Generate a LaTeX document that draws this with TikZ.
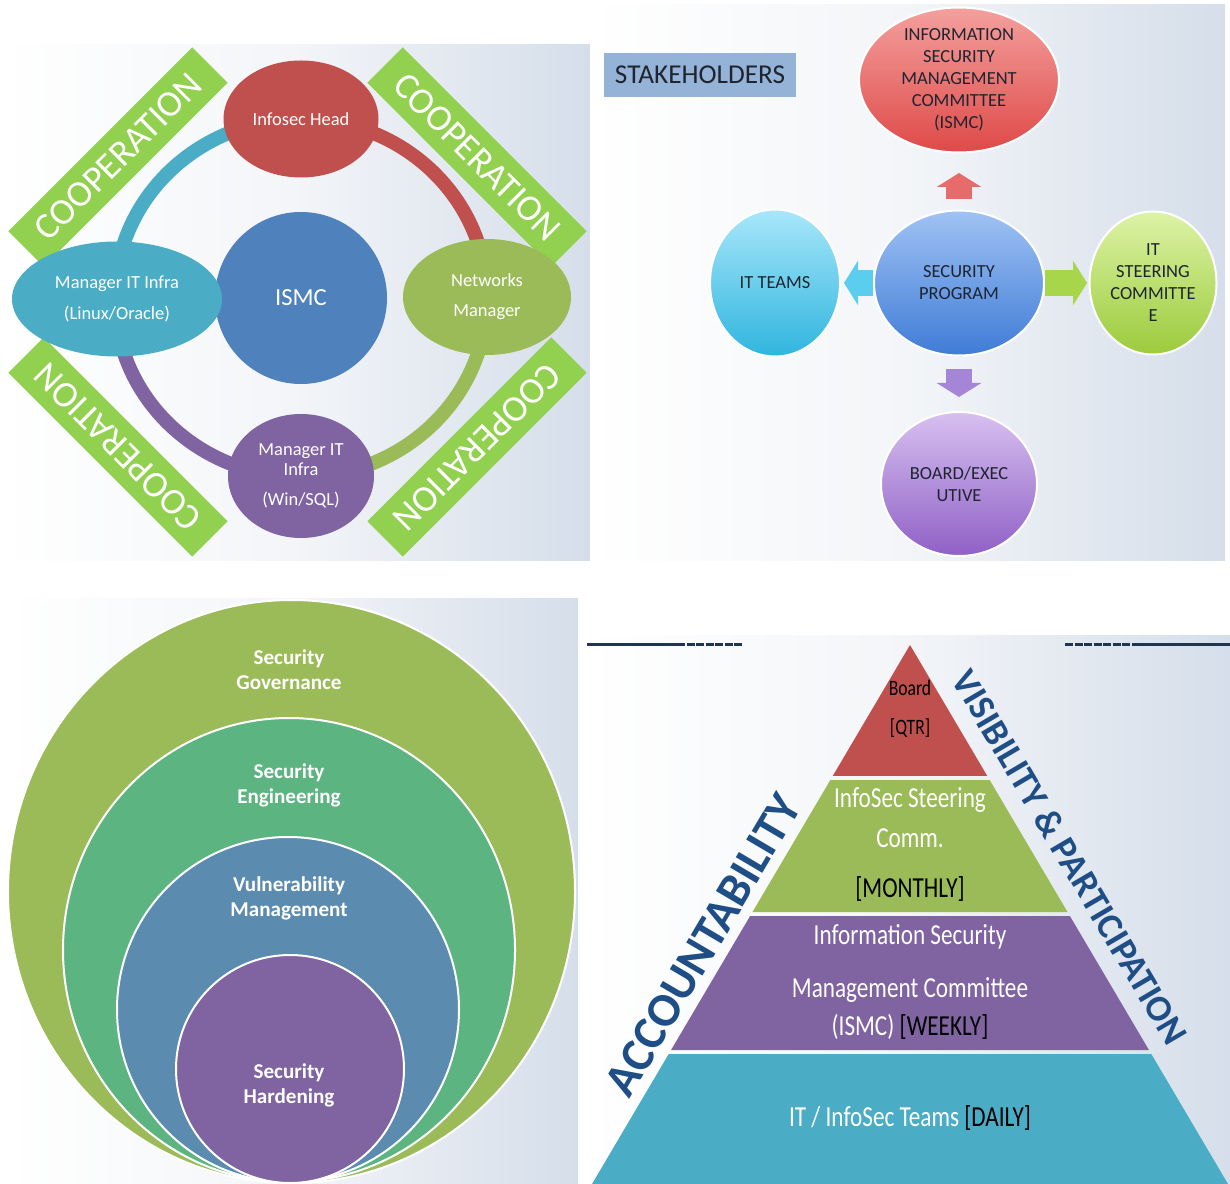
\documentclass[tikz,border=0pt]{standalone}
\usepackage{fontspec}
\setmainfont{Carlito}
\newfontfamily\pyrfont[FakeStretch=0.8]{Carlito}
\usetikzlibrary{positioning,arrows.meta,shapes.geometric,calc}
\definecolor{roleRed}{HTML}{C0504D}
\definecolor{roleBlue}{HTML}{4F81BD}
\definecolor{roleCyan}{HTML}{4BACC6}
\definecolor{roleGreen}{HTML}{9BBB59}
\definecolor{rolePurple}{HTML}{8064A2}
\definecolor{coopGreen}{HTML}{92D050}
\definecolor{stakeBox}{HTML}{95B3D7}
\definecolor{inkDark}{HTML}{1E2430}
\definecolor{engGreen}{HTML}{5CB480}
\definecolor{vulBlue}{HTML}{5B8CAF}
\definecolor{sideBlue}{HTML}{1F4E86}
\definecolor{lineNavy}{HTML}{1F3550}
\definecolor{bgMid}{HTML}{F3F5F8}
\definecolor{bgBlue}{HTML}{D5DEEA}
\definecolor{redTop}{HTML}{F4A09E}
\definecolor{redBot}{HTML}{DE4A48}
\definecolor{blueTop}{HTML}{A0C2F4}
\definecolor{blueBot}{HTML}{3F7CD6}
\definecolor{cyanTop}{HTML}{A8E7FA}
\definecolor{cyanBot}{HTML}{30B5DE}
\definecolor{limeTop}{HTML}{DDF3A6}
\definecolor{limeBot}{HTML}{9BCB3C}
\definecolor{violetTop}{HTML}{D7C0F0}
\definecolor{violetBot}{HTML}{8F60C6}
\definecolor{arrRed}{HTML}{E76B6B}
\definecolor{arrCyan}{HTML}{5BCDEE}
\definecolor{arrGreen}{HTML}{A8D64B}
\definecolor{arrViolet}{HTML}{A585D6}

\begin{document}
\begin{tikzpicture}[x=0.2mm, y=0.2mm,
  panel/.style={left color=white, right color=bgBlue, middle color=bgMid},
  ring/.style={line width=2.8mm},
  role/.style={ellipse, inner sep=0pt, text=white, align=center, font=\fontsize{10.5}{11.5}\selectfont},
  coop/.style={fill=coopGreen, text=white, minimum width=52mm, minimum height=10mm, inner sep=0pt, font=\fontsize{21}{21}\selectfont},
  stake/.style={ellipse, draw=white, line width=0.4mm, inner sep=0pt},
  staketext/.style={text=inkDark, align=center, font=\fontsize{10.5}{12.5}\selectfont},
  push/.style={line width=5.2mm, -{Triangle[width=8.8mm, length=2.8mm]}},
  layer/.style={ellipse, draw=white, line width=0.4mm, inner sep=0pt},
  layertext/.style={text=white, align=center, font=\bfseries\fontsize{12}{14.2}\selectfont},
  tiertext/.style={text=white, font=\pyrfont\fontsize{16.5}{18}\selectfont},
  side/.style={text=sideBlue, font=\bfseries\fontsize{27}{27}\selectfont}]

\useasboundingbox (0,0) rectangle (1230,-1184);

% panels
\shade[panel] (0,-45) rectangle (590,-560);
\shade[panel] (590,-5) rectangle (1225,-560);
\shade[panel] (5,-598) rectangle (578,-1184);
\shade[panel] (585,-635) rectangle (1230,-1184);

% cooperation ring
\coordinate (hub) at (301,-298);
\draw[ring, roleRed] ($(hub)+(0:186 and 179)$) arc[start angle=0, end angle=90, x radius=186, y radius=179];
\draw[ring, roleCyan] ($(hub)+(90:186 and 179)$) arc[start angle=90, end angle=180, x radius=186, y radius=179];
\draw[ring, rolePurple] ($(hub)+(180:186 and 179)$) arc[start angle=180, end angle=270, x radius=186, y radius=179];
\draw[ring, roleGreen] ($(hub)+(270:186 and 179)$) arc[start angle=270, end angle=360, x radius=186, y radius=179];

\node[coop, rotate=45] (coopNW) at (118,-157) {COOPERATION};
\node[coop, rotate=-45] (coopNE) at (477,-157) {COOPERATION};
\node[coop, rotate=135] (coopSW) at (118,-447) {COOPERATION};
\node[coop, rotate=-135] (coopSE) at (477,-447) {COOPERATION};

\node[role, circle, fill=roleBlue, minimum size=34.4mm, font=\fontsize{14}{14}\selectfont] (ismc) at (hub) {ISMC};
\node[role, fill=roleRed, minimum width=31mm, minimum height=23.4mm] (head) at (301,-119) {Infosec Head};
\node[role, fill=roleCyan, minimum width=42mm, minimum height=23mm] (linux) at (117,-299) {Manager IT Infra\\[2mm](Linux/Oracle)};
\node[role, fill=roleGreen, minimum width=33.6mm, minimum height=23.2mm] (netw) at (487,-297) {Networks\\[2mm]Manager};
\node[role, fill=rolePurple, minimum width=29.2mm, minimum height=24.8mm] (winsql) at (301,-476) {Manager IT\\Infra\\[2mm](Win/SQL)};

% stakeholders
\node[fill=stakeBox, minimum width=38.4mm, minimum height=8.8mm, inner sep=0pt, text=inkDark, font=\fontsize{15.5}{15.5}\selectfont] (stake) at (700,-75) {STAKEHOLDERS};
\node[stake, top color=redTop, bottom color=redBot, minimum width=40mm, minimum height=29mm] (ismcR) at (959,-80) {};
\node[staketext] (ismcRt) at (ismcR) {INFORMATION\\SECURITY\\MANAGEMENT\\COMMITTEE\\(ISMC)};
\node[stake, top color=blueTop, bottom color=blueBot, minimum width=34mm, minimum height=29mm] (prog) at (959,-283) {};
\node[staketext] (progt) at (prog) {SECURITY\\PROGRAM};
\node[stake, top color=cyanTop, bottom color=cyanBot, minimum width=26mm, minimum height=29.4mm] (teams) at (775,-283) {};
\node[staketext] (teamst) at (teams) {IT TEAMS};
\node[stake, top color=limeTop, bottom color=limeBot, minimum width=25.4mm, minimum height=28.6mm] (steer) at (1153,-283) {};
\node[staketext] (steert) at (steer) {IT\\STEERING\\COMMITTE\\E};
\node[stake, top color=violetTop, bottom color=violetBot, minimum width=31.2mm, minimum height=28.8mm] (board) at (959,-484) {};
\node[staketext] (boardt) at (board) {BOARD/EXEC\\UTIVE};

\draw[push, arrRed, shorten <=2.1mm, shorten >=3.9mm] (prog) -- (ismcR);
\draw[push, arrCyan, shorten >=0.6mm] (prog) -- (teams);
\draw[push, arrGreen, shorten >=0.3mm] (prog) -- (steer);
\draw[push, arrViolet, shorten <=2.5mm, shorten >=2.8mm] (prog) -- (board);

% security layers
\node[layer, fill=roleGreen, minimum width=113.4mm, minimum height=116.6mm] (gov) at (291.5,-891.5) {};
\node[layer, fill=engGreen, minimum width=90.4mm, minimum height=92.8mm] (eng) at (289,-950) {};
\node[layer, fill=vulBlue, minimum width=68.4mm, minimum height=69mm] (vul) at (288,-1009.5) {};
\node[layer, fill=rolePurple, minimum width=45.6mm, minimum height=45.6mm] (hard) at (290,-1069) {};
\node[layertext] (govt) at (289,-670) {Security\\Governance};
\node[layertext] (engt) at (289,-785) {Security\\Engineering};
\node[layertext] (vult) at (289,-898) {Vulnerability\\Management};
\node[layertext] (hardt) at (289,-1085) {Security\\Hardening};

% pyramid
\coordinate (apex) at (910,-645);
\coordinate (bl) at (592,-1184);
\coordinate (br) at (1228,-1184);
\foreach \a/\b/\c in {0/0.243/roleRed, 0.2505/0.4954/roleGreen, 0.5028/0.7514/rolePurple, 0.7588/1/roleCyan}
  \fill[\c] ($(apex)!\a!(bl)$) -- ($(apex)!\b!(bl)$) -- ($(apex)!\b!(br)$) -- ($(apex)!\a!(br)$) -- cycle;

\node[text=black, font=\pyrfont\fontsize{12.5}{12.5}\selectfont] (tboard) at (910,-688) {Board};
\node[text=black, font=\pyrfont\fontsize{12.5}{12.5}\selectfont] (tqtr) at (910,-728) {[QTR]};
\node[tiertext] (tsteer) at (910,-800) {InfoSec Steering};
\node[tiertext] (tcomm) at (910,-838) {Comm.};
\node[tiertext, text=black] (tmonthly) at (910,-889) {[MONTHLY]};
\node[tiertext] (tinfo) at (910,-937) {Information Security};
\node[tiertext] (tmgmt) at (910,-990) {Management Committee};
\node[tiertext] (tweekly) at (910,-1027) {(ISMC) \textcolor{black}{[WEEKLY]}};
\node[tiertext] (tdaily) at (910,-1118) {IT / InfoSec Teams \textcolor{black}{[DAILY]}};

\node[side, rotate=59.5] (acc) at (703,-945) {ACCOUNTABILITY};
\node[side, rotate=-59.5, font=\bfseries\fontsize{21}{21}\selectfont] (vis) at (1070,-857) {VISIBILITY \& PARTICIPATION};

\draw[lineNavy, line width=0.6mm] (587,-644) -- (677,-644);
\draw[lineNavy, line width=0.6mm, dash pattern=on 1.6mm off 0.3mm] (677,-644) -- (743,-644);
\draw[lineNavy, line width=0.6mm, dash pattern=on 1.6mm off 0.3mm] (1065,-644) -- (1132,-644);
\draw[lineNavy, line width=0.6mm] (1132,-644) -- (1230,-644);
\end{tikzpicture}
\end{document}
